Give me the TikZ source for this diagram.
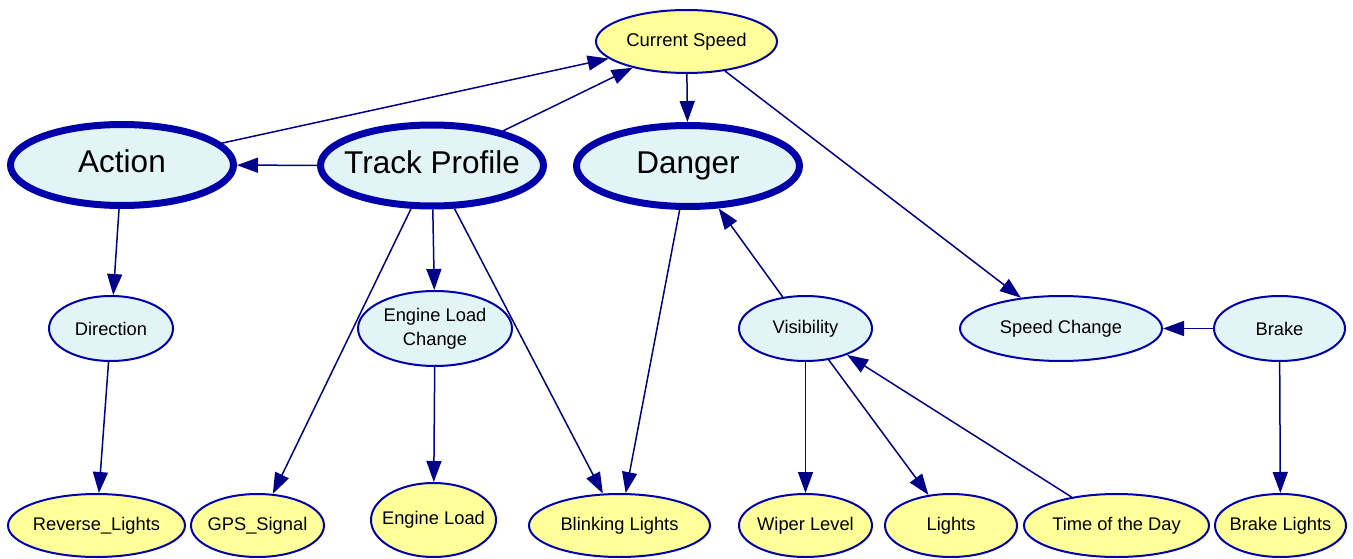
\documentclass[tikz,border=0pt]{standalone}
\usepackage{fontspec}
\setmainfont{Liberation Sans}
\usetikzlibrary{shapes.geometric,arrows.meta}
\definecolor{yfill}{HTML}{FFFF99}
\definecolor{cfill}{HTML}{E2F4F5}
\definecolor{nborder}{HTML}{0000AA}
\definecolor{edgec}{HTML}{000088}
\tikzset{
  base/.style={ellipse, draw=nborder, inner ysep=0pt, inner xsep=-10pt, line width=2pt, align=center,
    font=\fontsize{18.3}{24}\selectfont, text=black},
  ynode/.style={base, fill=yfill},
  cnode/.style={base, fill=cfill},
  bignode/.style={base, fill=cfill, line width=7pt, minimum width=223pt, minimum height=81pt,
    inner xsep=-20pt, inner ysep=-5pt, text height=22.6pt, text depth=6.6pt,
    font=\fontsize{31.5}{36}\selectfont},
  conn/.style={draw=edgec, line width=1.5pt, -{Triangle[length=21pt,width=15pt]}}
}
\begin{document}
\begin{tikzpicture}[x=1pt,y=-1pt]
\useasboundingbox (0,0) rectangle (1353,559);
% top
\node[ynode, minimum width=181pt, minimum height=63pt, font=\fontsize{18.5}{23}\selectfont] (cs) at (686.5,41.5) {Current Speed};
% big
\node[bignode] (act) at (122,165) {Action};
\node[bignode] (tp) at (432,165.5) {Track Profile};
\node[bignode] (dan) at (688,166) {Danger};
% middle
\node[cnode, minimum width=124pt, minimum height=65pt] (dir) at (111,328.5) {Direction};
\node[cnode, minimum width=154pt, minimum height=75pt] (elc) at (435,328.5) {Engine Load\\Change};
\node[cnode, minimum width=133pt, minimum height=65pt] (vis) at (805.5,328.5) {Visibility};
\node[cnode, minimum width=202pt, minimum height=65pt] (sc) at (1061,328.5) {Speed Change};
\node[cnode, minimum width=131pt, minimum height=65pt] (brk) at (1279.5,328.5) {Brake};
% bottom
\node[ynode, minimum width=177pt, minimum height=63pt] (rl) at (96.5,525.5) {Reverse\_Lights};
\node[ynode, minimum width=133pt, minimum height=63pt] (gps) at (257.5,525.5) {GPS\_Signal};
\node[ynode, minimum width=125pt, minimum height=74pt] (el) at (433.5,520) {Engine Load};
\node[ynode, minimum width=181pt, minimum height=63pt] (bl) at (619.5,525.5) {Blinking Lights};
\node[ynode, minimum width=133pt, minimum height=63pt] (wl) at (805.5,525.5) {Wiper Level};
\node[ynode, minimum width=132pt, minimum height=63pt] (li) at (951,525.5) {Lights};
\node[ynode, minimum width=185pt, minimum height=63pt] (td) at (1116.5,525.5) {Time of the Day};
\node[ynode, minimum width=131pt, minimum height=63pt] (bli) at (1280.5,525.5) {Brake Lights};
% edges
\draw[conn] (act) -- (cs);
\draw[conn] (tp) -- (cs);
\draw[conn] (tp) -- (act);
\draw[conn] (cs) -- (dan);
\draw[conn] (cs) -- (sc);
\draw[conn] (act) -- (dir);
\draw[conn] (tp) -- (gps);
\draw[conn] (tp) -- (elc);
\draw[conn] (tp) -- (bl);
\draw[conn] (dan) -- (bl);
\draw[conn] (vis) -- (dan);
\draw[conn] (vis) -- (wl);
\draw[conn] (vis) -- (li);
\draw[conn] (td) -- (vis);
\draw[conn] (brk) -- (sc);
\draw[conn] (brk) -- (bli);
\draw[conn] (dir) -- (rl);
\draw[conn] (elc) -- (el);
\end{tikzpicture}
\end{document}
